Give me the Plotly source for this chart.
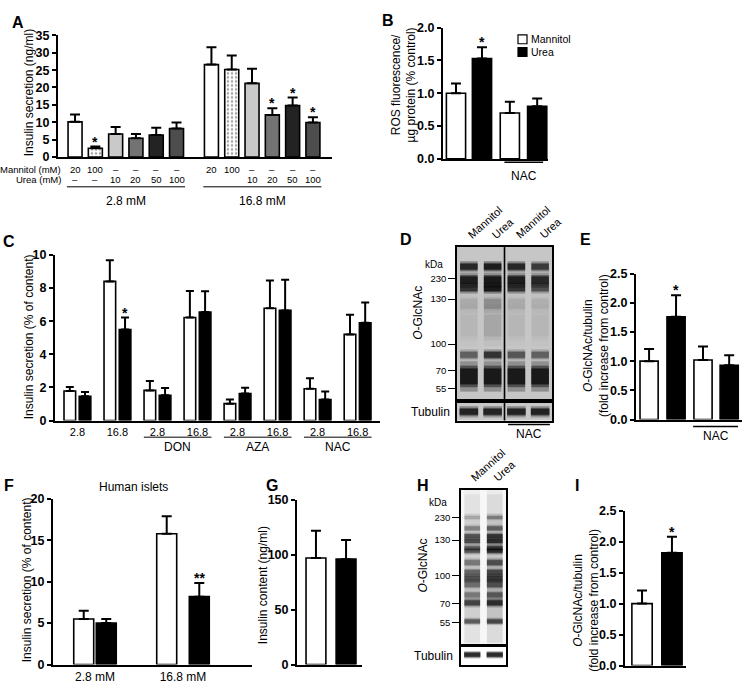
import plotly.graph_objects as go

# ======================= DATA =======================
# Panel A – insulin secretion (ng/ml)
a_mannitol_lbl = ["20", "100", "–", "–", "–", "–", "20", "100", "–", "–", "–", "–"]
a_urea_lbl = ["–", "–", "10", "20", "50", "100", "", "", "10", "20", "50", "100"]
a_glucose = ["2.8 mM", "16.8 mM"]
a_low = [10.1, 2.5, 6.6, 5.4, 6.3, 8.2]
a_low_err = [2.1, 0.5, 2.0, 1.2, 2.1, 1.7]
a_high = [26.6, 25.2, 21.2, 12.1, 14.8, 9.9]
a_high_err = [5.0, 4.0, 4.2, 1.9, 2.3, 1.5]
a_low_sig = ["", "*", "", "", "", ""]
a_high_sig = ["", "", "", "*", "*", "*"]
a_yticks = [0, 5, 10, 15, 20, 25, 30, 35]

# Panel B – ROS
b_labels = ["Mannitol", "Urea", "Mannitol", "Urea"]
b_vals = [1.0, 1.53, 0.70, 0.80]
b_err = [0.15, 0.17, 0.17, 0.12]
b_sig = ["", "*", "", ""]
b_yticks = [0.0, 0.5, 1.0, 1.5, 2.0]

# Panel C – insulin secretion (% of content)
c_glucose = ["2.8", "16.8", "2.8", "16.8", "2.8", "16.8", "2.8", "16.8"]
c_treat = ["DON", "AZA", "NAC"]
c_mannitol = [1.78, 8.4, 1.82, 6.22, 1.02, 6.78, 1.92, 5.2]
c_mannitol_err = [0.24, 1.28, 0.57, 1.6, 0.25, 1.67, 0.63, 1.18]
c_urea = [1.47, 5.5, 1.53, 6.55, 1.63, 6.65, 1.27, 5.9]
c_urea_err = [0.25, 0.72, 0.43, 1.25, 0.35, 1.85, 0.48, 1.22]
c_urea_sig = ["", "*", "", "", "", "", "", ""]
c_yticks = [0, 2, 4, 6, 8, 10]

# Panel D – O-GlcNAc blot (migration measured from top of membrane)
d_lanes = ["Mannitol", "Urea", "Mannitol", "Urea"]
d_marker_kda = ["230", "130", "100", "70", "55"]
d_marker_mig = [32, 53, 99, 126, 144]
d_band_mig = [20, 34, 42, 58, 80, 110, 132]
d_band_thick = [6, 8, 6, 10, 22, 6, 16]
d_band_int = [
    [0.85, 0.95, 0.85, 0.70],
    [0.95, 1.00, 0.95, 0.85],
    [0.75, 1.00, 0.75, 0.55],
    [0.10, 0.22, 0.10, 0.08],
    [0.05, 0.12, 0.05, 0.05],
    [0.45, 0.75, 0.50, 0.45],
    [1.00, 1.00, 1.00, 1.00],
]
d_tub_int = [0.9, 0.9, 0.9, 0.9]

# Panel E – O-GlcNAc/tubulin
e_vals = [1.0, 1.76, 1.02, 0.93]
e_err = [0.21, 0.37, 0.23, 0.17]
e_sig = ["", "*", "", ""]
e_yticks = [0.0, 0.5, 1.0, 1.5, 2.0, 2.5]

# Panel F – human islets
f_glucose = ["2.8 mM", "16.8 mM"]
f_mannitol = [5.5, 15.8]
f_mannitol_err = [1.0, 2.1]
f_urea = [5.0, 8.2]
f_urea_err = [0.5, 1.65]
f_urea_sig = ["", "**"]
f_yticks = [0, 5, 10, 15, 20]

# Panel G – insulin content
g_vals = [97, 96]
g_err = [25, 17.5]
g_yticks = [0, 50, 100, 150]

# Panel H – human islet blot
h_lanes = ["Mannitol", "Urea"]
h_marker_kda = ["230", "130", "100", "70", "55"]
h_marker_mig = [28, 51, 87, 116, 135]
h_band_mig = [28, 39, 47, 52, 59, 62, 74, 84, 90, 96, 107, 115, 134]
h_band_thick = [3, 4, 4, 4, 4, 4, 5, 5, 5, 6, 5, 5, 4]
h_band_int = [
    [0.15, 0.30], [0.30, 0.45], [0.55, 0.75], [0.60, 0.80], [0.45, 0.65],
    [0.50, 0.75], [0.35, 0.55], [0.45, 0.60], [0.55, 0.70], [0.40, 0.55],
    [0.35, 0.50], [0.65, 0.80], [0.50, 0.60],
]
h_tub_int = [0.9, 0.9]

# Panel I
i_vals = [1.0, 1.82]
i_err = [0.21, 0.26]
i_sig = ["", "*"]
i_yticks = [0.0, 0.5, 1.0, 1.5, 2.0, 2.5]

# ======================= HELPERS =======================
W, H = 755, 697
FONT = "Liberation Sans, Arial, Helvetica, sans-serif"
TICK = 12.5
TITLE = 12
LETTER = 16


def fx(x):
    return x / W


def fy(y):
    return 1 - y / H


fig = go.Figure()
lay = {}
annotations = []
shapes = []


def ax_names(n):
    s = "" if n == 1 else str(n)
    return "x" + s, "y" + s, "xaxis" + s, "yaxis" + s


def bar_axes(n, xpx, ypx, xr, yr, yticks, fmt=None, xtickvals=None, xticktext=None, xtickfont=11):
    xn, yn, xk, yk = ax_names(n)
    lay[xk] = dict(domain=[fx(xpx[0]), fx(xpx[1])], range=xr, anchor=yn, showgrid=False,
                   zeroline=False, showline=True, linecolor="black", linewidth=2,
                   ticks="",
                   showticklabels=bool(xtickvals), tickvals=xtickvals, ticktext=xticktext,
                   tickfont=dict(family=FONT, size=xtickfont, color="black"), fixedrange=True)
    lay[yk] = dict(domain=[fy(ypx[1]), fy(ypx[0])], range=yr, anchor=xn, showgrid=False,
                   zeroline=False, showline=True, linecolor="black", linewidth=2,
                   ticks="outside", ticklen=4, tickwidth=2, tickcolor="black",
                   tickvals=yticks, tickformat=fmt,
                   tickfont=dict(family=FONT, size=TICK, color="black", weight="bold"), fixedrange=True)
    return xn, yn


def add_bars(xn, yn, xs, vals, errs, colors, width, patterns=None, capw=4):
    marker = dict(color=colors, line=dict(color="black", width=1.6))
    if patterns:
        marker["pattern"] = dict(shape=patterns, fgcolor="black", bgcolor="white", size=4, solidity=0.3)
    fig.add_trace(go.Bar(x=xs, y=vals, width=width, marker=marker, xaxis=xn, yaxis=yn,
                         error_y=dict(type="data", array=errs, arrayminus=[0] * len(vals),
                                      symmetric=False, color="black", thickness=2, width=capw),
                         showlegend=False, hoverinfo="skip"))


def add_sig(xn, yn, xs, vals, errs, sigs, size=14):
    for x, v, e, s in zip(xs, vals, errs, sigs):
        if s:
            annotations.append(dict(x=x, y=v + e, xref=xn, yref=yn, text=s, showarrow=False,
                                    yanchor="bottom", yshift=-5,
                                    font=dict(family=FONT, size=size, color="black", weight="bold")))


def text(t, x, y, size=TITLE, bold=False, xanchor="center", yanchor="middle", angle=0):
    annotations.append(dict(x=fx(x), y=fy(y), xref="paper", yref="paper", text=t, showarrow=False,
                            xanchor=xanchor, yanchor=yanchor, textangle=angle,
                            font=dict(family=FONT, size=size, color="black",
                                      weight="bold" if bold else "normal")))


def dtext(t, xref, x, y, size=TITLE, xanchor="center"):
    annotations.append(dict(x=x, y=fy(y), xref=xref, yref="paper", text=t, showarrow=False,
                            xanchor=xanchor, yanchor="middle",
                            font=dict(family=FONT, size=size, color="black")))


def dline(xref, x0, x1, y, w=1.5):
    shapes.append(dict(type="line", xref=xref, yref="paper", x0=x0, x1=x1, y0=fy(y), y1=fy(y),
                       line=dict(color="black", width=w)))


# ======================= PANEL A =======================
xa, ya = bar_axes(1, (58, 332), (29, 153), [-0.84, 12.66], [0, 35], a_yticks)
a_colors = ["white", "white", "#c9c9c9", "#737373", "#232323", "#4d4d4d"]
a_patterns = ["", ".", "", "", "", ""]
a_pos_low = [i for i in range(len(a_low))]
a_pos_high = [i + 6.72 for i in range(len(a_high))]
add_bars(xa, ya, a_pos_low, a_low, a_low_err, a_colors, 0.69, a_patterns, capw=5)
add_bars(xa, ya, a_pos_high, a_high, a_high_err, a_colors, 0.69, a_patterns, capw=5)
add_sig(xa, ya, a_pos_low, a_low, a_low_err, a_low_sig)
add_sig(xa, ya, a_pos_high, a_high, a_high_err, a_high_sig)
for p, m, u in zip(a_pos_low + a_pos_high, a_mannitol_lbl, a_urea_lbl):
    dtext(m, xa, p, 166, size=9.5)
    dtext(u, xa, p, 176.5, size=9.5)
text("Mannitol (mM)", 63, 166, size=9.5, xanchor="right")
text("Urea (mM)", 63, 176.5, size=9.5, xanchor="right")
for grp, g in zip([a_pos_low, a_pos_high], a_glucose):
    dline(xa, grp[0] - 0.4, grp[-1] + 0.42, 183.5, w=1)
    dtext(g, xa, (grp[0] + grp[-1]) / 2, 198, size=TITLE)
text("Insulin secretion (ng/ml)", 29, 88, angle=-90)
text("A", 18, 16, size=LETTER, bold=True)

# ======================= PANEL B =======================
xb, yb = bar_axes(2, (443, 548), (21, 155), [-0.48, 3.4], [0, 2.0], b_yticks, fmt=".1f")
b_pos = [0, 0.96, 1.99, 3.0]
b_colors = ["white" if l == "Mannitol" else "black" for l in b_labels]
add_bars(xb, yb, b_pos, b_vals, b_err, b_colors, 0.71, capw=5)
add_sig(xb, yb, b_pos, b_vals, b_err, b_sig)
dline(xb, b_pos[2] - 0.2, b_pos[3] + 0.22, 158.5)
dtext("NAC", xb, (b_pos[2] + b_pos[3]) / 2, 172)
text("ROS fluorescence/<br>µg protein (% control)", 404, 80, angle=-90)
text("B", 388, 14, size=LETTER, bold=True)
for i, (lbl, col) in enumerate([("Mannitol", "white"), ("Urea", "black")]):
    ycen = 33 + i * 13
    shapes.append(dict(type="rect", xref="paper", yref="paper", x0=fx(518), x1=fx(527),
                       y0=fy(ycen + 4.5), y1=fy(ycen - 4.5), fillcolor=col,
                       line=dict(color="black", width=1.2)))
    text(lbl, 529, ycen, size=10.5, xanchor="left")

# ======================= PANEL C =======================
c_pairs = list(range(len(c_glucose)))
xc, yc_ = bar_axes(3, (55, 380), (253, 422), [-0.56, 7.56], [0, 10], c_yticks,
                   xtickvals=c_pairs, xticktext=c_glucose, xtickfont=11)
c_pos_m = [p - 0.19 for p in c_pairs]
c_pos_u = [p + 0.19 for p in c_pairs]
add_bars(xc, yc_, c_pos_m, c_mannitol, c_mannitol_err, ["white"] * 8, 0.29, capw=4)
add_bars(xc, yc_, c_pos_u, c_urea, c_urea_err, ["black"] * 8, 0.29, capw=4)
add_sig(xc, yc_, c_pos_u, c_urea, c_urea_err, c_urea_sig)
for k, t in enumerate(c_treat):
    p0 = 2 + 2 * k
    dline(xc, p0 - 0.34, p0 + 1 + 0.35, 439, w=1)
    dtext(t, xc, p0 + 0.5, 449)
text("Insulin secretion (% of content)", 29, 337, angle=-90)
text("C", 9, 239, size=LETTER, bold=True)


# ======================= BLOTS =======================
def blot_axes(n, xpx, ypx, nl, yr, tickvals=None, ticktext=None):
    xn, yn, xk, yk = ax_names(n)
    lay[xk] = dict(domain=[fx(xpx[0]), fx(xpx[1])], range=[-0.5, nl - 0.5], anchor=yn,
                   showgrid=False, zeroline=False, showline=True, mirror=True, linecolor="black",
                   linewidth=1.6, ticks="", showticklabels=False, fixedrange=True)
    lay[yk] = dict(domain=[fy(ypx[1]), fy(ypx[0])], range=yr, anchor=xn, showgrid=False,
                   zeroline=False, showline=True, mirror=True, linecolor="black", linewidth=1.6,
                   ticks="outside" if tickvals else "", ticklen=7, tickwidth=1.2, tickcolor="black",
                   tickvals=tickvals, ticktext=ticktext, showticklabels=bool(tickvals),
                   tickfont=dict(family=FONT, size=9.5, color="black"), fixedrange=True)
    return xn, yn


def draw_bands(xn, yn, migs, thicks, ints, lane_w):
    for m, t, row in zip(migs, thicks, ints):
        for lane, inten in enumerate(row):
            for fw, fa in ((1.9, 0.24), (1.35, 0.38), (1.0, 0.6)):
                a = min(1.0, fa * inten * 1.15)
                fig.add_trace(go.Scatter(x=[lane - lane_w / 2, lane + lane_w / 2], y=[m, m],
                                         mode="lines", xaxis=xn, yaxis=yn,
                                         line=dict(color=f"rgba(0,0,0,{a:.3f})", width=t * fw),
                                         showlegend=False, hoverinfo="skip"))


def bg(xn, yn, color):
    shapes.append(dict(type="rect", xref=xn + " domain", yref=yn + " domain", x0=0, x1=1, y0=0, y1=1,
                       fillcolor=color, line=dict(width=0), layer="below"))


# D
xd, yd = blot_axes(4, (457, 552), (245, 400), 4, [155, 0], d_marker_mig, d_marker_kda)
bg(xd, yd, "#c6c6c6")
draw_bands(xd, yd, d_band_mig, d_band_thick, d_band_int, 0.74)
xdt, ydt = blot_axes(5, (457, 552), (404, 422), 4, [1, 0])
bg(xdt, ydt, "#c6c6c6")
draw_bands(xdt, ydt, [0.5], [6], [d_tub_int], 0.78)
for xn_, yn_ in ((xd, yd), (xdt, ydt)):
    shapes.append(dict(type="line", xref=xn_, yref=yn_ + " domain", x0=1.5, x1=1.5, y0=0, y1=1,
                       line=dict(color="black", width=1.6)))
for i, l in enumerate(d_lanes):
    annotations.append(dict(x=i - 0.25, y=fy(241), xref=xd, yref="paper", text=l, showarrow=False,
                            xanchor="left", yanchor="bottom", textangle=-42,
                            font=dict(family=FONT, size=11, color="black")))
text("kDa", 445, 263, size=10, xanchor="right")
text("<i>O</i>-GlcNAc", 418, 312, angle=-90)
text("Tubulin", 452, 413, xanchor="right")
dline(xd, 1.65, 3.41, 426)
dtext("NAC", xd, 2.53, 436)
text("D", 406, 237, size=LETTER, bold=True)

# ======================= PANEL E =======================
xe, ye = bar_axes(6, (636, 742), (272, 421), [-0.49, 3.48], [0, 2.5], e_yticks, fmt=".1f")
e_pos = [0, 1.01, 2.02, 3.0]
add_bars(xe, ye, e_pos, e_vals, e_err, ["white", "black", "white", "black"], 0.68, capw=5)
add_sig(xe, ye, e_pos, e_vals, e_err, e_sig)
dline(xe, 1.65, 3.33, 428)
dtext("NAC", xe, 2.5, 438)
text("<i>O</i>-GlcNAc/tubulin<br>(fold increase from control)", 596, 346, angle=-90)
text("E", 585, 237, size=LETTER, bold=True)

# ======================= PANEL F =======================
f_pairs = [0, 1]
xf, yf_ = bar_axes(7, (53, 252), (502, 671), [-0.477, 1.784], [0, 20], f_yticks,
                   xtickvals=f_pairs, xticktext=f_glucose, xtickfont=12)
f_half_gap = [0.128, 0.185]
f_pos_m = [p - g for p, g in zip(f_pairs, f_half_gap)]
f_pos_u = [p + g for p, g in zip(f_pairs, f_half_gap)]
add_bars(xf, yf_, f_pos_m, f_mannitol, f_mannitol_err, ["white", "white"], 0.227, capw=5)
add_bars(xf, yf_, f_pos_u, f_urea, f_urea_err, ["black", "black"], 0.227, capw=5)
add_sig(xf, yf_, f_pos_u, f_urea, f_urea_err, f_urea_sig)
text("Human islets", 133, 490)
text("Insulin secretion (% of content)", 27, 585, angle=-90)
text("F", 9, 488, size=LETTER, bold=True)

# ======================= PANEL G =======================
xg, yg = bar_axes(8, (297, 362), (503, 671), [-0.63, 1.53], [0, 150], g_yticks)
g_pos = [0, 1]
add_bars(xg, yg, g_pos, g_vals, g_err, ["white", "black"], 0.66, capw=5)
text("Insulin content (ng/ml)", 263, 590, angle=-90)
text("G", 272, 488, size=LETTER, bold=True)

# ======================= PANEL H =======================
xh, yh = blot_axes(9, (461, 506), (493, 650), 2, [157, 0], h_marker_mig, h_marker_kda)
bg(xh, yh, "#f7f7f7")
draw_bands(xh, yh, [80], [110], [[0.12, 0.16]], 0.7)
draw_bands(xh, yh, h_band_mig, h_band_thick, h_band_int, 0.7)
xht, yht = blot_axes(10, (461, 506), (653, 671), 2, [1, 0])
draw_bands(xht, yht, [0.45], [4], [h_tub_int], 0.72)
for i, l in enumerate(h_lanes):
    annotations.append(dict(x=i - 0.3, y=fy(489), xref=xh, yref="paper", text=l, showarrow=False,
                            xanchor="left", yanchor="bottom", textangle=-42,
                            font=dict(family=FONT, size=11, color="black")))
text("kDa", 449, 506, size=10, xanchor="right")
text("<i>O</i>-GlcNAc", 423, 570, angle=-90)
text("Tubulin", 455, 662, xanchor="right")
text("H", 423, 488, size=LETTER, bold=True)

# ======================= PANEL I =======================
xi, yi = bar_axes(11, (625, 686), (514, 672), [-0.57, 1.47], [0, 2.5], i_yticks, fmt=".1f")
i_pos = [0, 1]
add_bars(xi, yi, i_pos, i_vals, i_err, ["white", "black"], 0.68, capw=5)
add_sig(xi, yi, i_pos, i_vals, i_err, i_sig)
text("<i>O</i>-GlcNAc/tubulin<br>(fold increase from control)", 586, 606, angle=-90)
text("I", 577, 488, size=LETTER, bold=True)

fig.update_layout(width=W, height=H, margin=dict(l=0, r=0, t=0, b=0), paper_bgcolor="white",
                  plot_bgcolor="white", showlegend=False, barmode="overlay",
                  font=dict(family=FONT, color="black"), annotations=annotations, shapes=shapes,
                  **lay)
fig.write_html("out.html", config={"displayModeBar": False},
               post_script="document.body.style.margin='0';")
